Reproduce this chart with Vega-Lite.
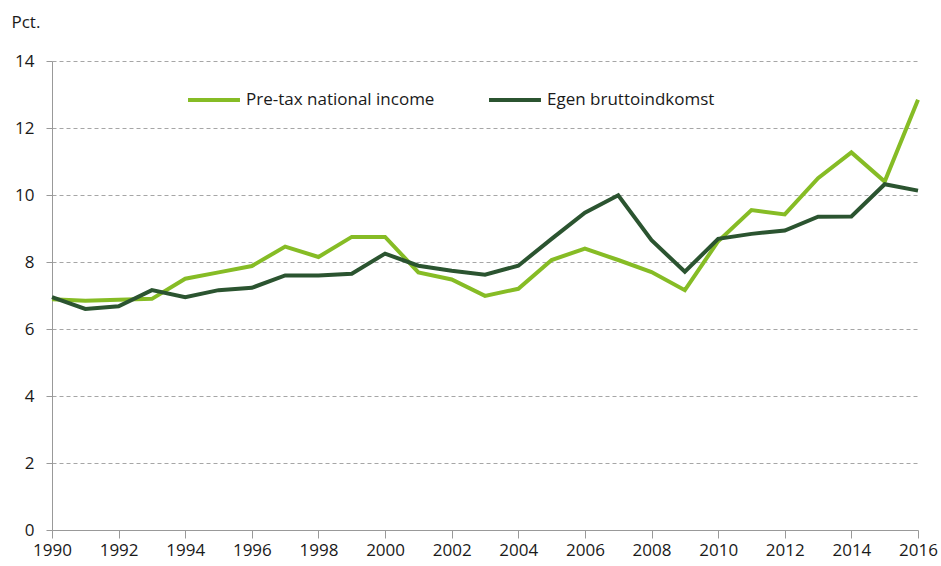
{
  "$schema": "https://vega.github.io/schema/vega-lite/v6.json",
  "width": 866,
  "height": 469,
  "autosize": {"type": "none"},
  "padding": {"left": 52, "top": 61, "right": 23, "bottom": 36},
  "background": "white",
  "config": {
    "view": {"stroke": null},
    "font": "Open Sans",
    "axis": {"labelFont": "Open Sans", "titleFont": "Open Sans", "labelColor": "#1a1a1a", "titleColor": "#1a1a1a"}
  },
  "data": {
    "values": [
      {"year": 1990, "series": "Pre-tax national income", "value": 6.89},
      {"year": 1991, "series": "Pre-tax national income", "value": 6.84},
      {"year": 1992, "series": "Pre-tax national income", "value": 6.87},
      {"year": 1993, "series": "Pre-tax national income", "value": 6.9},
      {"year": 1994, "series": "Pre-tax national income", "value": 7.5},
      {"year": 1995, "series": "Pre-tax national income", "value": 7.69},
      {"year": 1996, "series": "Pre-tax national income", "value": 7.88},
      {"year": 1997, "series": "Pre-tax national income", "value": 8.46},
      {"year": 1998, "series": "Pre-tax national income", "value": 8.15},
      {"year": 1999, "series": "Pre-tax national income", "value": 8.75},
      {"year": 2000, "series": "Pre-tax national income", "value": 8.75},
      {"year": 2001, "series": "Pre-tax national income", "value": 7.69},
      {"year": 2002, "series": "Pre-tax national income", "value": 7.48},
      {"year": 2003, "series": "Pre-tax national income", "value": 6.99},
      {"year": 2004, "series": "Pre-tax national income", "value": 7.2},
      {"year": 2005, "series": "Pre-tax national income", "value": 8.06},
      {"year": 2006, "series": "Pre-tax national income", "value": 8.4},
      {"year": 2007, "series": "Pre-tax national income", "value": 8.06},
      {"year": 2008, "series": "Pre-tax national income", "value": 7.7},
      {"year": 2009, "series": "Pre-tax national income", "value": 7.16},
      {"year": 2010, "series": "Pre-tax national income", "value": 8.62},
      {"year": 2011, "series": "Pre-tax national income", "value": 9.55},
      {"year": 2012, "series": "Pre-tax national income", "value": 9.42},
      {"year": 2013, "series": "Pre-tax national income", "value": 10.5},
      {"year": 2014, "series": "Pre-tax national income", "value": 11.27},
      {"year": 2015, "series": "Pre-tax national income", "value": 10.4},
      {"year": 2016, "series": "Pre-tax national income", "value": 12.84},
      {"year": 1990, "series": "Egen bruttoindkomst", "value": 6.95},
      {"year": 1991, "series": "Egen bruttoindkomst", "value": 6.6},
      {"year": 1992, "series": "Egen bruttoindkomst", "value": 6.68},
      {"year": 1993, "series": "Egen bruttoindkomst", "value": 7.16},
      {"year": 1994, "series": "Egen bruttoindkomst", "value": 6.95},
      {"year": 1995, "series": "Egen bruttoindkomst", "value": 7.16},
      {"year": 1996, "series": "Egen bruttoindkomst", "value": 7.23},
      {"year": 1997, "series": "Egen bruttoindkomst", "value": 7.6},
      {"year": 1998, "series": "Egen bruttoindkomst", "value": 7.6},
      {"year": 1999, "series": "Egen bruttoindkomst", "value": 7.65},
      {"year": 2000, "series": "Egen bruttoindkomst", "value": 8.25},
      {"year": 2001, "series": "Egen bruttoindkomst", "value": 7.89},
      {"year": 2002, "series": "Egen bruttoindkomst", "value": 7.74},
      {"year": 2003, "series": "Egen bruttoindkomst", "value": 7.62},
      {"year": 2004, "series": "Egen bruttoindkomst", "value": 7.89},
      {"year": 2005, "series": "Egen bruttoindkomst", "value": 8.69},
      {"year": 2006, "series": "Egen bruttoindkomst", "value": 9.47},
      {"year": 2007, "series": "Egen bruttoindkomst", "value": 9.99},
      {"year": 2008, "series": "Egen bruttoindkomst", "value": 8.65},
      {"year": 2009, "series": "Egen bruttoindkomst", "value": 7.71},
      {"year": 2010, "series": "Egen bruttoindkomst", "value": 8.69},
      {"year": 2011, "series": "Egen bruttoindkomst", "value": 8.84},
      {"year": 2012, "series": "Egen bruttoindkomst", "value": 8.94},
      {"year": 2013, "series": "Egen bruttoindkomst", "value": 9.35},
      {"year": 2014, "series": "Egen bruttoindkomst", "value": 9.36},
      {"year": 2015, "series": "Egen bruttoindkomst", "value": 10.32},
      {"year": 2016, "series": "Egen bruttoindkomst", "value": 10.13}
    ]
  },
  "mark": {"type": "line", "strokeWidth": 4, "strokeJoin": "miter", "strokeCap": "butt"},
  "encoding": {
    "x": {
      "field": "year",
      "type": "quantitative",
      "scale": {"domain": [1990, 2016], "nice": false, "zero": false},
      "axis": {
        "title": null,
        "values": [1990, 1992, 1994, 1996, 1998, 2000, 2002, 2004, 2006, 2008, 2010, 2012, 2014, 2016],
        "format": "d",
        "grid": false,
        "domainColor": "#999999",
        "tickColor": "#999999",
        "tickSize": 8,
        "labelFontSize": 17,
        "labelPadding": 4,
        "labelFlush": false
      }
    },
    "y": {
      "field": "value",
      "type": "quantitative",
      "scale": {"domain": [0, 14], "nice": false},
      "axis": {
        "title": "Pct.",
        "titleAngle": 0,
        "titleAlign": "left",
        "titleBaseline": "middle",
        "titleX": -41,
        "titleY": -39,
        "titleFontSize": 17,
        "titleFontWeight": "normal",
        "values": [0, 2, 4, 6, 8, 10, 12, 14],
        "grid": true,
        "gridDash": [4, 3],
        "gridColor": "#a6a6a6",
        "gridWidth": 1,
        "domainColor": "#999999",
        "tickColor": "#999999",
        "tickSize": 6,
        "labelFontSize": 17,
        "labelPadding": 12
      }
    },
    "color": {
      "field": "series",
      "type": "nominal",
      "scale": {
        "domain": ["Pre-tax national income", "Egen bruttoindkomst"],
        "range": ["#86bc25", "#2b5430"]
      },
      "legend": {
        "title": null,
        "orient": "none",
        "legendX": 134,
        "legendY": 11,
        "direction": "horizontal",
        "symbolType": "stroke",
        "symbolSize": 2700,
        "symbolStrokeWidth": 4,
        "labelFontSize": 17,
        "labelColor": "#1a1a1a",
        "labelOffset": 4,
        "columnPadding": 46,
        "labelLimit": 400
      }
    }
  }
}
